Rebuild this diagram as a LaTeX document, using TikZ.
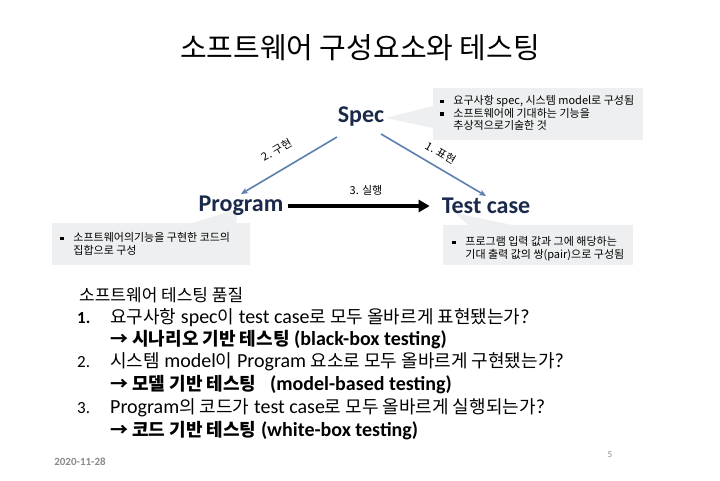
\documentclass[tikz,border=0pt]{standalone}
\usepackage{fontspec}
\setmainfont{Carlito}
\newfontfamily\kr{Noto Sans CJK KR}
\usetikzlibrary{arrows.meta}
\definecolor{navy}{HTML}{1B2A4A}
\definecolor{steel}{HTML}{5B7FAE}
\definecolor{calbg}{HTML}{EEEFF0}
\definecolor{footgray}{HTML}{8A8A8A}
\newcommand{\bul}{\rule[0.25ex]{0.3em}{0.3em}\hspace{0.9em}}
\newcommand{\ko}[1]{{\kr\fontsize{18}{20}\selectfont #1}}
\tikzset{
  keynode/.style={font=\fontsize{24}{28}\selectfont\bfseries, text=navy, inner sep=2pt},
  calltext/.style={font=\kr\fontsize{11}{12.7}\selectfont, align=left, anchor=north west, inner sep=0pt},
  callbg/.style={fill=calbg},
  link/.style={draw=steel, line width=1.6pt, -{Stealth[length=7pt,width=6pt]}},
  edgelabel/.style={font=\kr\fontsize{11}{13}\selectfont, inner sep=0pt},
  listline/.style={anchor=west, inner sep=0pt, font=\fontsize{20}{22}\selectfont},
  numline/.style={anchor=west, inner sep=0pt, font=\fontsize{17}{20}\selectfont},
}
\begin{document}
\begin{tikzpicture}[x=1pt,y=-1pt]
\useasboundingbox (0,0) rectangle (720,480);
\fill[white] (0,0) rectangle (720,480);

% title
\node[inner sep=0pt] (title) at (360,48) {\kr\fontsize{29}{32}\selectfont 소프트웨어 구성요소와 테스팅};

% callout backgrounds
\fill[callbg] (433,88) rectangle (643,140);
\fill[callbg] (433,106) -- (386,118) -- (433,128) -- cycle;
\fill[callbg] (52,223) rectangle (250,265);
\fill[callbg] (192,223) -- (238,209) -- (236,223) -- cycle;
\fill[callbg] (443,225) rectangle (633,265);
\fill[callbg] (468,225) -- (455,213) -- (512,225) -- cycle;

% callout texts
\node[calltext] (specnote) at (440,95) {\bul 요구사항 spec, 시스템 model로 구성됨\\\bul 소프트웨어에 기대하는 기능을\\\hphantom{\bul}추상적으로기술한 것};
\node[calltext] (prognote) at (60,232) {\bul 소프트웨어의기능을 구현한 코드의\\\hphantom{\bul}집합으로 구성};
\node[calltext] (testnote) at (452,236) {\bul 프로그램 입력 값과 그에 해당하는\\\hphantom{\bul}기대 출력 값의 쌍(pair)으로 구성됨};

% main nodes
\node[keynode] (spec) at (361,117) {Spec};
\node[keynode] (program) at (241,206) {Program};
\node[keynode] (testcase) at (486,206) {Test case};

\coordinate (specL) at (337,137);
\coordinate (specR) at (381,134);

\draw[link] (specL) -- (program.north);
\draw[link] (specR) -- (testcase.north);
\draw[line width=3.5pt, -{Triangle[length=11pt,width=12pt]}, shorten <=2pt, shorten >=10pt] (program.east) -- (testcase.west);

\node[edgelabel, rotate=30] (lbl2) at (277,150) {2. 구현};
\node[edgelabel, rotate=-31] (lbl1) at (441,153) {1. 표현};
\node[edgelabel] (lbl3) at (366,190) {3. 실행};

% quality list
\node[listline] (q0) at (79,295) {{\kr\fontsize{17}{20}\selectfont 소프트웨어 테스팅 품질}};
\node[numline] (n1) at (77,318) {\bfseries 1.};
\node[listline] (q1) at (110,318) {\ko{요구사항} spec\ko{이} test case\ko{로 모두 올바르게 표현됐는가}?};
\node[listline] (q1b) at (110,340) {\ko{\bfseries → 시나리오 기반 테스팅} \bfseries(black-box testing)};
\node[numline] (n2) at (77,362) {2.};
\node[listline] (q2) at (110,362) {\ko{시스템} model\ko{이} Program \ko{요소로 모두 올바르게 구현됐는가}?};
\node[listline] (q2b) at (110,385) {\ko{\bfseries → 모델 기반 테스팅} \bfseries\ \ (model-based testing)};
\node[numline] (n3) at (77,408) {3.};
\node[listline] (q3) at (110,408) {Program\ko{의 코드가} test case\ko{로 모두 올바르게 실행되는가}?};
\node[listline] (q3b) at (110,431) {\ko{\bfseries → 코드 기반 테스팅} \bfseries(white-box testing)};

% footer
\node[inner sep=0pt, text=footgray, font=\fontsize{11}{13}\selectfont\bfseries] (date) at (80,462) {2020-11-28};
\node[inner sep=0pt, text=footgray, font=\fontsize{9}{11}\selectfont] (page) at (610,455) {5};
\end{tikzpicture}
\end{document}
